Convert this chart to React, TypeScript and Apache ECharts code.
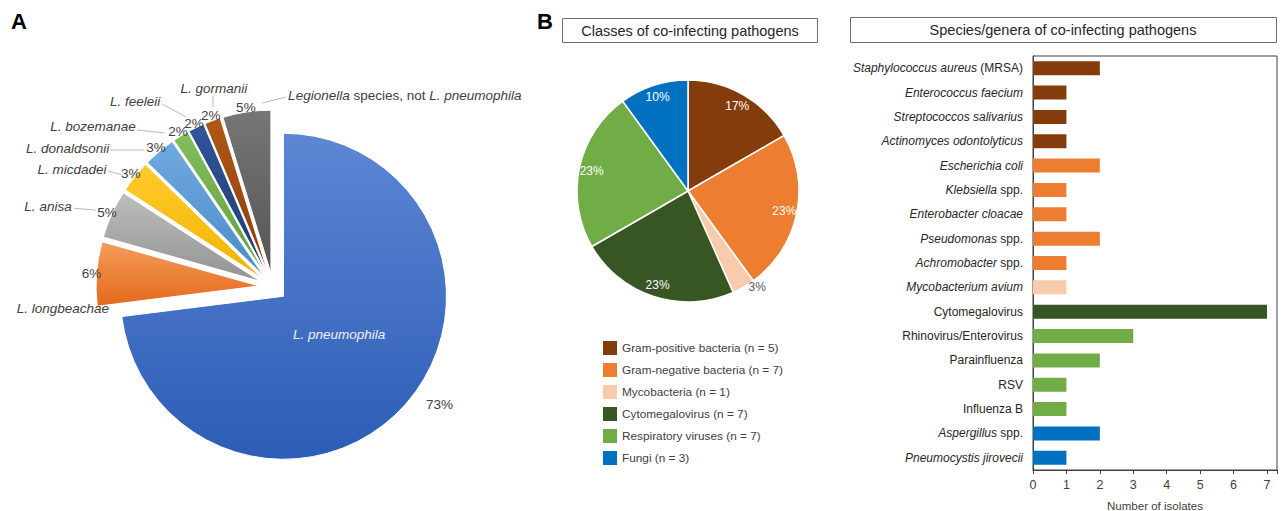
import { useEffect, useRef } from 'react';
import * as echarts from 'echarts';

// ---------- DATA ----------
// Panel A: Legionella species (number of isolates)
const A_SPECIES = [
  'L. pneumophila',
  'L. longbeachae',
  'L. anisa',
  'L. micdadei',
  'L. donaldsonii',
  'L. bozemanae',
  'L. feeleii',
  'L. gormanii',
  'Legionella species, not L. pneumophila',
];
const A_COUNTS = [46, 4, 3, 2, 2, 1, 1, 1, 3];

// Panel B: classes of co-infecting pathogens
const B_CLASSES = [
  'Gram-positive bacteria',
  'Gram-negative bacteria',
  'Mycobacteria',
  'Cytomegalovirus',
  'Respiratory viruses',
  'Fungi',
];
const B_COUNTS = [5, 7, 1, 7, 7, 3];

// Species/genera bar chart: [italic part, roman part]
const BAR_NAMES: [string, string][] = [
  ['Staphylococcus aureus', '(MRSA)'],
  ['Enterococcus faecium', ''],
  ['Streptococcos salivarius', ''],
  ['Actinomyces odontolyticus', ''],
  ['Escherichia coli', ''],
  ['Klebsiella', 'spp.'],
  ['Enterobacter cloacae', ''],
  ['Pseudomonas', 'spp.'],
  ['Achromobacter', 'spp.'],
  ['Mycobacterium avium', ''],
  ['', 'Cytomegalovirus'],
  ['', 'Rhinovirus/Enterovirus'],
  ['', 'Parainfluenza'],
  ['', 'RSV'],
  ['', 'Influenza B'],
  ['Aspergillus', 'spp.'],
  ['Pneumocystis jirovecii', ''],
];
const BAR_VALUES = [2, 1, 1, 1, 2, 1, 1, 2, 1, 1, 7, 3, 2, 1, 1, 2, 1];
const BAR_CLASS = [0, 0, 0, 0, 1, 1, 1, 1, 1, 2, 3, 4, 4, 4, 4, 5, 5];
const X_MAX_TICK = 7;

// ---------- STYLE ----------
const FONT = '"Liberation Sans", Arial, Helvetica, sans-serif';
const TXT = '#404040';
const TRANSPARENT = 'rgba(0,0,0,0)';

const A_COLORS: [string, string][] = [
  ['#5D87D4', '#2C5CB6'],
  ['#F59C5C', '#E3691B'],
  ['#BDBDBD', '#939393'],
  ['#FFCB2E', '#F2B300'],
  ['#70AADF', '#4A8BCA'],
  ['#82BE5C', '#62A03A'],
  ['#30559A', '#1F3B6C'],
  ['#B0571A', '#8C3E09'],
  ['#767676', '#555555'],
];
const B_COLORS = ['#843C0C', '#ED7D31', '#F8CBAD', '#375623', '#70AD47', '#0070C0'];

const A_CENTER = [273, 287];
const A_R = 163;
const A_EXPLODE = 14;

// name label placement relative to slice edge point (from the label line start)
type NamePos = { dx: number; dy: number; align?: string; line?: number[][] | null };
const A_NAME_POS: NamePos[] = [
  { dx: -2.5, dy: -13 },
  { dx: 12.5, dy: 35, align: 'right', line: null },
  { dx: -40, dy: -8, align: 'right', line: [[-16, -4], [-38, -6]] },
  { dx: -28, dy: -7.6, align: 'right', line: [[-13, -2], [-26.5, -5.6]] },
  { dx: -50, dy: -3.4, align: 'right', line: [[-15, -1.4], [-49, -1.4]] },
  { dx: -45, dy: -9, align: 'right', line: [[-16, -3], [-43.5, -6]] },
  { dx: -36, dy: -26.5, align: 'right', line: [[-10, -10.5], [-34, -23.5]] },
  { dx: 1.5, dy: -31.7, align: 'center', line: [[0.5, -13.5], [0.5, -24]] },
  { dx: 41.5, dy: -16, align: 'left', line: [[15.5, -9], [39.5, -15]] },
];

const grad = (c: [string, string]) =>
  new echarts.graphic.LinearGradient(0, 0, 0, 1, [
    { offset: 0, color: c[0] },
    { offset: 1, color: c[1] },
  ]);

const ITALIC_RE = /(Legionella|L\. \w+)/;
function fmtA(name: string) {
  return name
    .split(ITALIC_RE)
    .filter((s) => s)
    .map((s) => (/^(Legionella|L\. \w+)$/.test(s) ? `{i|${s}}` : `{n|${s}}`))
    .join('');
}

const richA = (color: string, size: number) => ({
  i: { fontStyle: 'italic', fontSize: size, color, fontFamily: FONT },
  n: { fontStyle: 'normal', fontSize: size, color, fontFamily: FONT },
});

const B_NAMES = B_CLASSES.map((c, i) => `${c} (n = ${B_COUNTS[i]})`);

function buildOption(): any {
  const pct = (p: any) => `${Math.round(p.percent)}%`;

  return {
    animation: false,
    textStyle: { fontFamily: FONT },
    graphic: [
      { type: 'text', x: 19, y: 21, style: { text: 'A', font: `bold 22px ${FONT}`, fill: '#000', align: 'center', verticalAlign: 'middle', textAlign: 'center', textVerticalAlign: 'middle' } },
      { type: 'text', x: 545, y: 21, style: { text: 'B', font: `bold 22px ${FONT}`, fill: '#000', align: 'center', verticalAlign: 'middle', textAlign: 'center', textVerticalAlign: 'middle' } },
      { type: 'rect', shape: { x: 562.5, y: 18.5, width: 255, height: 24 }, style: { fill: '#fff', stroke: '#6E6E6E', lineWidth: 1 } },
      { type: 'text', x: 690, y: 30.5, style: { text: 'Classes of co-infecting pathogens', font: `14.5px ${FONT}`, fill: '#262626', align: 'center', verticalAlign: 'middle', textAlign: 'center', textVerticalAlign: 'middle' } },
      { type: 'rect', shape: { x: 850.5, y: 17.5, width: 426, height: 25 }, style: { fill: '#fff', stroke: '#6E6E6E', lineWidth: 1 } },
      { type: 'text', x: 1063, y: 30, style: { text: 'Species/genera of co-infecting pathogens', font: `14.5px ${FONT}`, fill: '#262626', align: 'center', verticalAlign: 'middle', textAlign: 'center', textVerticalAlign: 'middle' } },
    ],
    legend: {
      data: B_NAMES,
      orient: 'vertical',
      left: 598,
      top: 336,
      itemWidth: 14,
      itemHeight: 14,
      itemGap: 8,
      icon: 'rect',
      selectedMode: false,
      itemStyle: { borderWidth: 0 },
      textStyle: { fontSize: 11.8, color: TXT, fontFamily: FONT },
    },
    grid: {
      left: 1033,
      top: 56,
      width: 244,
      height: 414,
      outerBoundsMode: 'none',
      containLabel: false,
      show: true,
      borderColor: '#404040',
      borderWidth: 1,
      backgroundColor: TRANSPARENT,
    },
    xAxis: {
      type: 'value',
      min: 0,
      max: 7.3,
      interval: 1,
      axisLine: { show: true, lineStyle: { color: '#404040' } },
      axisTick: { show: true, length: 4, lineStyle: { color: '#404040' } },
      splitLine: { show: false },
      axisLabel: {
        fontSize: 12.5,
        color: TXT,
        fontFamily: FONT,
        formatter: (v: number) => (Number.isInteger(v) && v <= X_MAX_TICK ? String(v) : ''),
      },
      name: 'Number of isolates',
      nameLocation: 'middle',
      nameGap: 30,
      nameTextStyle: { fontSize: 11.5, color: TXT, fontFamily: FONT },
    },
    yAxis: {
      type: 'category',
      inverse: true,
      data: BAR_NAMES.map(([a, b]) => `${a} ${b}`.trim()),
      axisLine: { show: true, lineStyle: { color: '#404040' } },
      axisTick: { show: false },
      axisLabel: {
        interval: 0,
        margin: 10,
        formatter: (_v: string, idx: number) => {
          const [it, ro] = BAR_NAMES[idx];
          const parts: string[] = [];
          if (it) parts.push(`{i|${it}}`);
          if (ro) parts.push(`{n|${it ? ' ' : ''}${ro}}`);
          return parts.join('');
        },
        rich: {
          i: { fontStyle: 'italic', fontSize: 12, color: '#262626', fontFamily: FONT },
          n: { fontStyle: 'normal', fontSize: 12, color: '#262626', fontFamily: FONT },
        },
      },
    },
    series: [
      // Panel A – visible exploded slices
      {
        type: 'pie',
        name: 'A',
        center: A_CENTER,
        radius: [0, A_R],
        startAngle: 90,
        clockwise: true,
        selectedMode: 'multiple',
        selectedOffset: A_EXPLODE,
        silent: true,
        emphasis: { disabled: true },
        label: { show: false },
        labelLine: { show: false },
        itemStyle: { borderColor: '#fff', borderWidth: 1 },
        data: A_SPECIES.map((n, i) => ({
          name: n,
          value: A_COUNTS[i],
          selected: true,
          itemStyle: { color: grad(A_COLORS[i]) },
        })),
      },
      // Panel A – species name labels
      {
        type: 'pie',
        name: 'A-names',
        center: A_CENTER,
        radius: [0, A_R + A_EXPLODE],
        startAngle: 90,
        clockwise: true,
        silent: true,
        avoidLabelOverlap: false,
        emphasis: { disabled: true },
        itemStyle: { color: TRANSPARENT, borderWidth: 0 },
        label: {
          show: true,
          position: 'outside',
          formatter: (p: any) => fmtA(p.name),
          rich: richA(TXT, 13.5),
        },
        labelLine: { show: true, length: 10, length2: 10, lineStyle: { color: '#A6A6A6', width: 0.8 } },
        labelLayout: (p: any) => {
          const o = A_NAME_POS[p.dataIndex];
          if (!o) return {};
          if (p.dataIndex === 0) {
            const r = p.labelRect;
            return { x: r.x + r.width / 2 + o.dx, y: r.y + r.height / 2 + o.dy, align: 'center', verticalAlign: 'middle' };
          }
          const pts = p.labelLinePoints;
          if (!pts || !pts.length) return {};
          const ex = pts[0][0];
          const ey = pts[0][1];
          const line = o.line ? o.line.map(([a, b]) => [ex + a, ey + b]) : [[ex, ey], [ex, ey]];
          return { x: ex + o.dx, y: ey + o.dy, align: o.align, verticalAlign: 'middle', labelLinePoints: line };
        },
        data: A_SPECIES.map((n, i) =>
          i === 0
            ? {
                name: n,
                value: A_COUNTS[i],
                label: { position: 'inside', formatter: (p: any) => fmtA(p.name), rich: richA('#F2F2F2', 13.5) },
                labelLine: { show: false },
              }
            : { name: n, value: A_COUNTS[i] }
        ),
      },
      // Panel A – percentage labels
      {
        type: 'pie',
        name: 'A-pct',
        center: A_CENTER,
        radius: [A_R + 6, A_R + 26],
        startAngle: 90,
        clockwise: true,
        silent: true,
        emphasis: { disabled: true },
        itemStyle: { color: TRANSPARENT, borderWidth: 0 },
        label: { show: true, position: 'inside', formatter: pct, fontSize: 13.5, color: TXT, fontFamily: FONT },
        labelLine: { show: false },
        labelLayout: (p: any) => {
          if (p.dataIndex !== 0) return {};
          const r = p.labelRect;
          return { x: r.x + r.width / 2 + 30, y: r.y + r.height / 2 - 3, align: 'center', verticalAlign: 'middle' };
        },
        data: A_SPECIES.map((n, i) => ({ name: n, value: A_COUNTS[i] })),
      },
      // Panel B – pie
      {
        type: 'pie',
        name: 'B',
        center: [688, 191],
        radius: [0, 111],
        startAngle: 90,
        clockwise: true,
        silent: true,
        emphasis: { disabled: true },
        label: { show: false },
        labelLine: { show: false },
        itemStyle: { borderColor: '#fff', borderWidth: 1.5 },
        data: B_NAMES.map((n, i) => ({ name: n, value: B_COUNTS[i], itemStyle: { color: B_COLORS[i] } })),
      },
      // Panel B – percentage labels
      {
        type: 'pie',
        name: 'B-pct',
        center: [688, 191],
        radius: [80, 111],
        startAngle: 90,
        clockwise: true,
        silent: true,
        emphasis: { disabled: true },
        itemStyle: { color: TRANSPARENT, borderWidth: 0 },
        label: { show: true, position: 'inside', formatter: pct, fontSize: 12, color: '#fff', fontFamily: FONT },
        labelLine: { show: false, length: 0, length2: 0 },
        data: B_NAMES.map((n, i) =>
          B_COUNTS[i] / B_COUNTS.reduce((a, b) => a + b, 0) < 0.05
            ? { name: n, value: B_COUNTS[i], label: { position: 'outside', color: '#595959' }, labelLine: { show: false, length: 0, length2: 0 } }
            : { name: n, value: B_COUNTS[i] }
        ),
      },
      // Species / genera bars
      {
        type: 'bar',
        barWidth: 14,
        silent: true,
        data: BAR_VALUES.map((v, i) => ({ value: v, itemStyle: { color: B_COLORS[BAR_CLASS[i]] } })),
      },
    ],
  };
}

export default function App() {
  const ref = useRef<HTMLDivElement>(null);
  useEffect(() => {
    document.body.style.margin = '0';
    const chart = echarts.init(ref.current!, null, { renderer: 'svg' });
    chart.setOption(buildOption());
    return () => chart.dispose();
  }, []);
  return <div ref={ref} style={{ width: 1283, height: 511, background: '#fff' }} />;
}
